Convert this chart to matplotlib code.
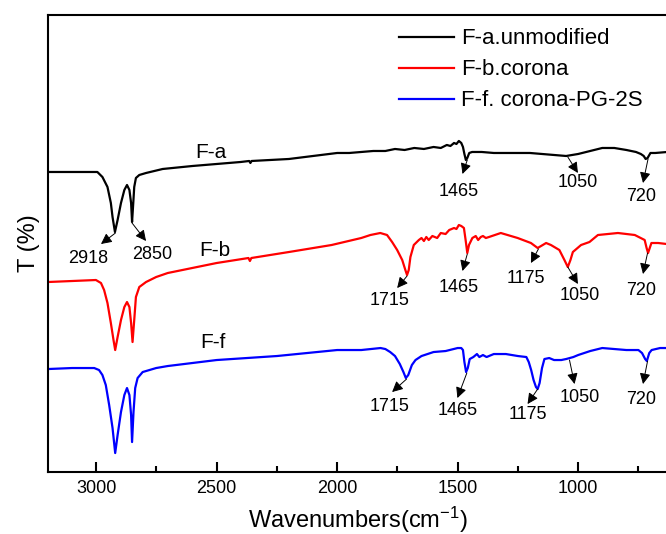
import matplotlib.pyplot as plt
from matplotlib.ticker import MultipleLocator

plt.rcParams['font.family'] = ['Liberation Sans', 'DejaVu Sans']
plt.rcParams['mathtext.default'] = 'regular'

# F-a unmodified (black)
wn_a = [3200, 3100, 2995, 2974, 2953, 2939, 2932, 2922, 2911, 2897, 2883, 2872, 2862,
        2855, 2851, 2846, 2842, 2835, 2821, 2793, 2724, 2600, 2500, 2400, 2365, 2360,
        2355, 2200, 2000, 1950, 1900, 1850, 1800, 1760, 1720, 1680, 1640, 1600, 1570,
        1545, 1530, 1515, 1505, 1495, 1485, 1478, 1472, 1466, 1460, 1452, 1440, 1400,
        1350, 1300, 1200, 1100, 1050, 1000, 950, 900, 850, 800, 760, 740, 728, 720,
        712, 700, 680, 630]
t_a = [300, 300, 300, 295, 285, 269, 255, 240, 252, 269, 282, 287, 282,
       269, 250, 269, 285, 294, 297, 299, 303, 306, 308, 310, 311, 309,
       311, 313, 319, 319, 320, 321, 321, 323, 322, 324, 323, 325, 324,
       327, 326, 329, 328, 331, 329, 325, 318, 312, 314, 319, 320, 320,
       319, 319, 319, 317, 316, 318, 321, 324, 324, 322, 320, 318, 316, 313,
       314, 319, 319, 320]

# F-b corona (red)
wn_b = [3200, 3100, 3001, 2980, 2967, 2953, 2939, 2928, 2921, 2911, 2897, 2883, 2872,
        2862, 2855, 2849, 2842, 2835, 2821, 2793, 2751, 2703, 2500, 2368, 2362, 2356,
        2200, 2023, 1900, 1862, 1821, 1793, 1772, 1751, 1730, 1717, 1710, 1703, 1696,
        1682, 1661, 1650, 1640, 1630, 1620, 1605, 1585, 1570, 1550, 1535, 1515, 1505,
        1495, 1485, 1474, 1467, 1460, 1453, 1439, 1425, 1415, 1404, 1395, 1383, 1370,
        1321, 1251, 1196, 1168, 1147, 1133, 1113, 1078, 1057, 1043, 1032, 1022, 988,
        953, 918, 835, 765, 724, 716, 710, 696, 668, 633]
t_b = [190, 191, 192, 189, 182, 169, 149, 132, 122, 135, 152, 165, 170,
       165, 149, 130, 152, 175, 185, 190, 195, 199, 209, 214, 211, 214,
       220, 227, 234, 237, 239, 237, 230, 222, 212, 202, 197, 202, 215,
       227, 232, 234, 231, 235, 232, 236, 234, 239, 238, 242, 244, 243,
       247, 246, 244, 232, 219, 227, 234, 236, 232, 235, 236, 234, 235,
       239, 234, 229, 224, 227, 229, 227, 222, 212, 205, 212, 220, 227,
       230, 237, 239, 237, 232, 224, 219, 229, 229, 228]

# F-f corona-PG-2S (blue)
wn_f = [3200, 3100, 3008, 2988, 2974, 2960, 2946, 2932, 2921, 2911, 2897, 2883, 2872,
        2862, 2855, 2851, 2845, 2838, 2828, 2807, 2751, 2703, 2500, 2250, 2000, 1900,
        1820, 1800, 1780, 1760, 1740, 1725, 1715, 1705, 1690, 1675, 1650, 1600, 1550,
        1500, 1485, 1478, 1472, 1465, 1458, 1450, 1435, 1420, 1410, 1395, 1380, 1350,
        1300, 1250, 1215, 1205, 1195, 1185, 1175, 1168, 1160, 1150, 1140, 1120, 1100,
        1070, 1050, 1020, 1000, 950, 900, 850, 800, 750, 735, 722, 715, 705, 695,
        660, 630]
t_f = [103, 104, 104, 102, 97, 87, 67, 44, 19, 37, 60, 77, 84,
       77, 57, 30, 60, 84, 94, 100, 104, 106, 112, 116, 122, 122,
       124, 123, 120, 116, 108, 100, 94, 97, 107, 112, 116, 120, 121,
       124, 124, 122, 110, 100, 104, 113, 115, 118, 115, 117, 115, 118,
       118, 116, 115, 110, 102, 92, 85, 83, 89, 104, 113, 114, 112,
       112, 113, 115, 117, 121, 124, 123, 122, 122, 119, 113, 111, 119, 122,
       124, 124]

series_labels = ['F-a.unmodified', 'F-b.corona', 'F-f. corona-PG-2S']
series_colors = ['black', '#ff0000', '#0000ff']

# curve names: (text, wavenumber, T)
curve_names = [('F-a', 2523, 319), ('F-b', 2508, 222), ('F-f', 2515, 130)]

# peak labels: (text, tail wn, tail T, head wn, head T, text wn, text T)
peaks = [
    ('2918', 2920, 239, 2980, 228, 3032, 214),
    ('2850', 2851, 249, 2793, 231, 2768, 218),
    ('1465', 1460, 312, 1480, 298, 1494, 280),
    ('1050', 1043, 315, 1001, 299, 1001, 289),
    ('720', 710, 313, 731, 289, 738, 275),
    ('1715', 1710, 196, 1751, 184, 1782, 172),
    ('1465', 1460, 218, 1480, 201, 1494, 185),
    ('1175', 1165, 223, 1196, 209, 1217, 194),
    ('1050', 1043, 205, 1001, 188, 995, 177),
    ('720', 712, 219, 731, 198, 738, 182),
    ('1715', 1712, 93, 1772, 80, 1782, 66),
    ('1465', 1462, 99, 1501, 74, 1501, 62),
    ('1175', 1168, 83, 1210, 68, 1210, 58),
    ('1050', 1036, 112, 1015, 88, 995, 75),
    ('720', 712, 111, 731, 88, 738, 73),
]

fig = plt.figure(figsize=(6.66, 5.34), dpi=100)
ax = fig.add_axes([0.072, 0.116, 0.93, 0.856])

for wn, t, lab, col in zip([wn_a, wn_b, wn_f], [t_a, t_b, t_f], series_labels, series_colors):
    ax.plot(wn, t, color=col, lw=1.6, label=lab)

for name, x, y in curve_names:
    ax.text(x, y, name, fontsize=15, ha='center', va='center')

for lab, x0, y0, x1, y1, xt, yt in peaks:
    ax.annotate('', xy=(x1, y1), xytext=(x0, y0),
                arrowprops=dict(arrowstyle='-|>', color='black', lw=0.7,
                                mutation_scale=16, shrinkA=0, shrinkB=0))
    ax.text(xt, yt, lab, fontsize=13, ha='center', va='center')

ax.set_xlim(3200, 630)
ax.set_ylim(0, 457)
ax.xaxis.set_major_locator(MultipleLocator(500))
ax.xaxis.set_minor_locator(MultipleLocator(250))
ax.tick_params(axis='x', which='major', direction='in', length=7, width=1.5,
               labelsize=13, pad=6)
ax.tick_params(axis='x', which='minor', direction='in', length=4, width=1.5)
ax.set_yticks([])
for s in ['left', 'top', 'bottom']:
    ax.spines[s].set_linewidth(1.5)
ax.spines['right'].set_visible(False)

ax.set_xlabel('Wavenumbers(cm$^{-1}$)', fontsize=17, labelpad=5)
ax.set_ylabel('T (%)', fontsize=17, labelpad=6)

ax.legend(loc='upper left', bbox_to_anchor=(0.545, 1.0), frameon=False,
          fontsize=16, handlelength=2.5, handletextpad=0.3, labelspacing=0.45,
          borderaxespad=0.2)

fig.savefig('out.png', dpi=100)
